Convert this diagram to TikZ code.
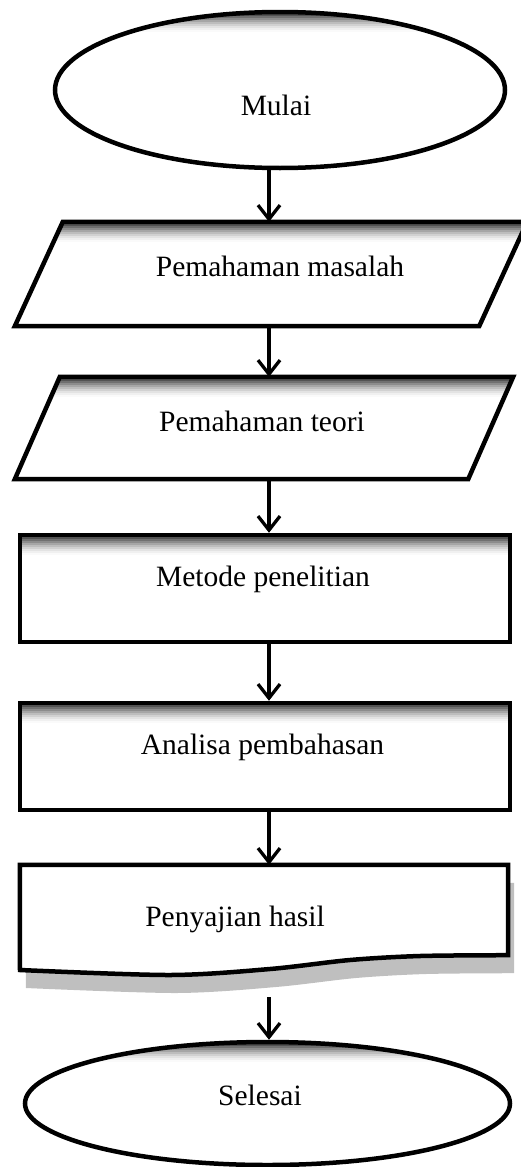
\documentclass[tikz,border=0pt]{standalone}
\usepackage{fontspec}
\setmainfont{Liberation Serif}
\usetikzlibrary{shapes.geometric, arrows.meta, shadows, backgrounds}
\newcommand{\flowfont}{\fontsize{29.5pt}{35pt}\selectfont}
\tikzset{
	shapeline/.style={draw, line width=4.5pt, fill=white},
	% soft grey rim along the upper edge
	topshade/.style={path picture={
		\foreach \d/\c in {0/80,2/68,4/56,6/45,8/35,10/26,12/18,14/11,16/6,18/2}
			\fill[black!\c] ([yshift=-\d pt]path picture bounding box.north west) rectangle ([yshift=-\d pt-2pt]path picture bounding box.north east);
	}},
	terminal/.style={shapeline, topshade, ellipse, inner sep=0pt},
	io/.style={rectangle, inner sep=0pt},
	process/.style={shapeline, topshade, rectangle, inner sep=0pt},
	docline/.style={draw, line width=4.5pt, fill=white, drop shadow={shadow xshift=6pt, shadow yshift=-18pt, fill=black!25, opacity=1}},
	flowarrow/.style={line width=3.3pt, -{Straight Barb[length=14pt, width=22pt]}},
	every label/.style={text height=20pt, text depth=6pt, inner sep=0pt}
}
\begin{document}
\begin{tikzpicture}[x=1pt, y=-1pt, font=\flowfont]
	\useasboundingbox (0,0) rectangle (521,1167);
	\coordinate (axis) at (269,0);
	\node[terminal, minimum width=450pt, minimum height=156pt, label={[xshift=-4pt, yshift=-18pt]center:Mulai}] (start) at (280,90) {};
	\node[io, minimum width=464pt, minimum height=104pt, label={[xshift=9pt, yshift=5pt]center:Pemahaman masalah}] (masalah) at (271,274) {};
	\node[io, minimum width=453pt, minimum height=102pt, label={[xshift=-2pt, yshift=4pt]center:Pemahaman teori}] (teori) at (264,428) {};
	\node[process, minimum width=490pt, minimum height=107pt, label={[xshift=-2pt, yshift=9pt]center:Metode penelitian}] (metode) at (265,588.5) {};
	\node[process, minimum width=490pt, minimum height=107pt, label={[xshift=-2.5pt, yshift=9.5pt]center:Analisa pembahasan}] (analisa) at (265,756.5) {};
	\node[minimum width=488pt, minimum height=90pt, inner sep=0pt, label={[xshift=-29pt, yshift=-9pt]center:Penyajian hasil}] (hasil) at (264,910) {};
	\begin{scope}[on background layer]
		% parallelograms behind their texts
		\draw[shapeline, topshade] ([xshift=24pt]masalah.north west) -- ([xshift=24pt]masalah.north east)
			-- ([xshift=-24pt]masalah.south east) -- ([xshift=-24pt]masalah.south west) -- cycle;
		\draw[shapeline, topshade] ([xshift=22.5pt]teori.north west) -- ([xshift=22.5pt]teori.north east)
			-- ([xshift=-22.5pt]teori.south east) -- ([xshift=-22.5pt]teori.south west) -- cycle;
		% document symbol with wavy bottom
		\draw[docline] (hasil.north west) -- (hasil.north east) -- (hasil.south east)
			-- plot[smooth] coordinates {(hasil.south east) (420,956) (350,960) (270,969) (170,975) (20,970)} -- cycle;
	\end{scope}
	\node[terminal, minimum width=485pt, minimum height=123pt, label={[xshift=-7.5pt, yshift=5.5pt]center:Selesai}] (end) at (267.5,1103.5) {};
	\draw[flowarrow] (start.south -| axis) -- (masalah.north -| axis);
	\draw[flowarrow] (masalah.south -| axis) -- (teori.north -| axis);
	\draw[flowarrow] (teori.south -| axis) -- (metode.north -| axis);
	\draw[flowarrow] (metode.south -| axis) -- (analisa.north -| axis);
	\draw[flowarrow] (analisa.south -| axis) -- (hasil.north -| axis);
	\draw[flowarrow, shorten <=42pt] (hasil.south -| axis) -- (end.north -| axis);
\end{tikzpicture}
\end{document}
